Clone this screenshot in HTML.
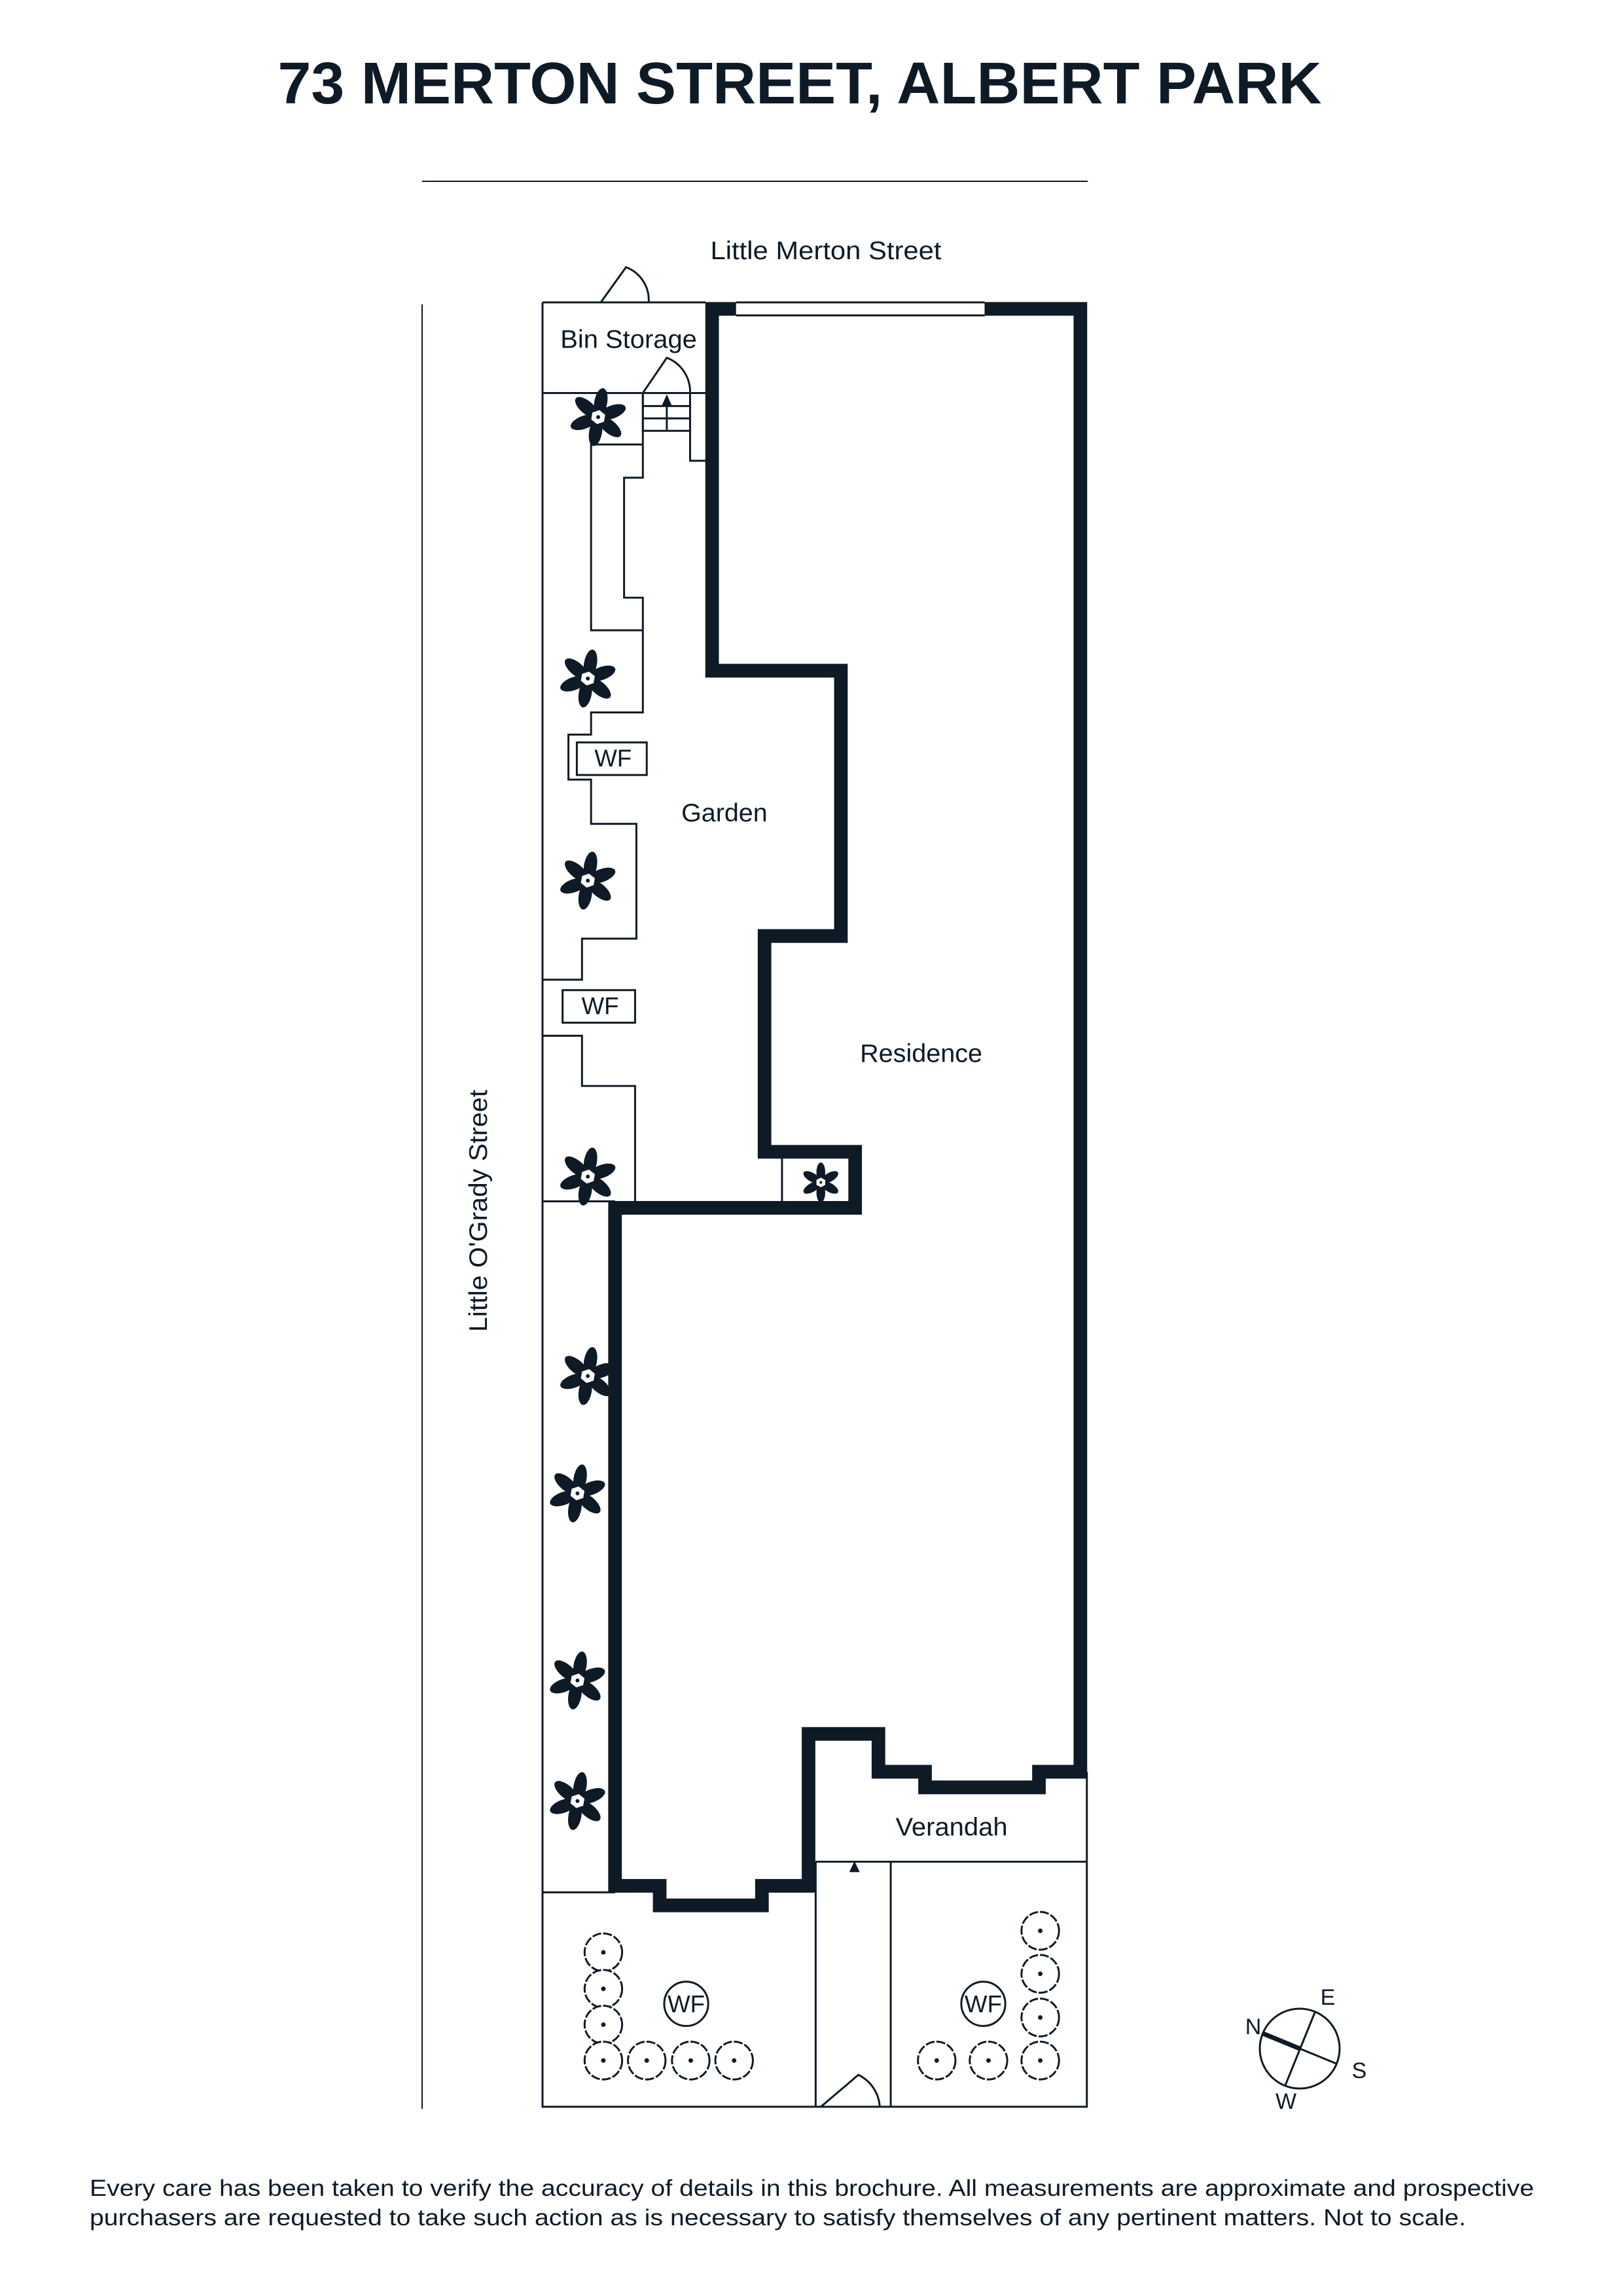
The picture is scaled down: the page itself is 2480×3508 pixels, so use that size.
<!DOCTYPE html>
<html><head><meta charset="utf-8"><style>
html,body{margin:0;padding:0;background:#fff}
svg{display:block}
text{font-family:"Liberation Sans",sans-serif;fill:#0e1a26}
</style></head><body>
<svg width="2480" height="3508" viewBox="0 0 2480 3508" xmlns="http://www.w3.org/2000/svg">
<defs>
<g id="star">
<g fill="#0e1a26">
<ellipse cx="0" cy="-23" rx="10" ry="22"/>
<ellipse cx="0" cy="-23" rx="10" ry="22" transform="rotate(60)"/>
<ellipse cx="0" cy="-23" rx="10" ry="22" transform="rotate(120)"/>
<ellipse cx="0" cy="-23" rx="10" ry="22" transform="rotate(180)"/>
<ellipse cx="0" cy="-23" rx="10" ry="22" transform="rotate(240)"/>
<ellipse cx="0" cy="-23" rx="10" ry="22" transform="rotate(300)"/>
</g>
<polygon points="0,-12 11,-6 11,6 0,12 -11,6 -11,-6" fill="#fff" stroke="#0e1a26" stroke-width="2"/>
<circle r="3" fill="#0e1a26"/>
</g>
<g id="shrub">
<circle r="29" fill="#fff" stroke="#0e1a26" stroke-width="3" stroke-dasharray="14 3"/>
<circle r="3.5" fill="#0e1a26"/>
</g>
</defs>

<text x="1222" y="158" font-size="90" font-weight="bold" text-anchor="middle" textLength="1595" lengthAdjust="spacingAndGlyphs">73 MERTON STREET, ALBERT PARK</text>
<line x1="645" y1="277" x2="1662" y2="277" stroke="#0e1a26" stroke-width="2"/>
<line x1="645" y1="465" x2="645" y2="3222" stroke="#0e1a26" stroke-width="2"/>

<text x="1262" y="396" font-size="39" text-anchor="middle" textLength="353" lengthAdjust="spacingAndGlyphs">Little Merton Street</text>
<text transform="translate(744,1850) rotate(-90)" font-size="39" text-anchor="middle" textLength="370" lengthAdjust="spacingAndGlyphs">Little O'Grady Street</text>

<g transform="translate(829,462) scale(0.989,0.996) translate(-829,-462)">
<g fill="none" stroke="#0e1a26" stroke-width="3">
<path d="M829,462 V3230 H1670 V2716"/>
<path d="M829,462 H1081"/>
<path d="M829,601 H1081"/>
<path d="M919,462 L958,408 A54,54 0 0 1 993,462"/>
<path d="M984,601 L1021,547 A56,56 0 0 1 1057,601"/>
<path d="M984,601 V659 H1057 M984,621 H1057 M984,640 H1057 M1057,601 V705 H1081"/>
<path d="M1021,659 V620"/>
<path d="M984,601 V731 H955 V915 H984 V1091 H904 V1125 H869 V1194 H904 V1262 H974 V1438 H890 V1501 H829"/>
<path d="M984,680 H904 V965 H984"/>
<path d="M829,1587 H890 V1664 H972 V1841"/>
<path d="M829,1841 H941"/>
<rect x="882" y="1137" width="108" height="50"/>
<rect x="860" y="1517" width="112" height="50"/>
<path d="M1199,1775 V1841"/>
<path d="M829,2901 H941"/>
<path d="M1251,2854 V3230 M1367,2854 V3230 M1251,2854 H1670"/>
<path d="M1259,3230 L1317,3181 A58,58 0 0 1 1350,3230"/>
<circle cx="1051" cy="3072" r="34"/>
<circle cx="1510" cy="3072" r="34"/>
</g>
<polygon points="1021,603 1013,621 1029,621" fill="#0e1a26"/>
<polygon points="1311,2853 1303,2870 1319,2870" fill="#0e1a26"/>

<path d="M1091,472 V1027 H1290 V1434 H1172 V1765 H1312 V1851 H941 V2891 H1010 V2921 H1168 V2891 H1240 V2658 H1348 V2716 H1420 V2740 H1596 V2716 H1660 V472 Z" fill="none" stroke="#0e1a26" stroke-width="21" stroke-linejoin="miter"/>
<rect x="1128" y="452" width="384" height="30" fill="#fff"/>
<path d="M1128,462 H1512 M1128,482 H1512" stroke="#0e1a26" stroke-width="3"/>

<text x="962" y="532" font-size="39" text-anchor="middle" textLength="211" lengthAdjust="spacingAndGlyphs">Bin Storage</text>
<text x="1110" y="1258" font-size="39" text-anchor="middle" textLength="133" lengthAdjust="spacingAndGlyphs">Garden</text>
<text x="1414" y="1627" font-size="39" text-anchor="middle" textLength="189" lengthAdjust="spacingAndGlyphs">Residence</text>
<text x="1461" y="2814" font-size="39" text-anchor="middle" textLength="173" lengthAdjust="spacingAndGlyphs">Verandah</text>
<text x="938" y="1174" font-size="37" text-anchor="middle">WF</text>
<text x="918" y="1554" font-size="37" text-anchor="middle">WF</text>
<text x="1051" y="3085" font-size="37" text-anchor="middle">WF</text>
<text x="1510" y="3085" font-size="37" text-anchor="middle">WF</text>

<use href="#star" transform="translate(915,638) rotate(10)"/>
<use href="#star" transform="translate(899,1039) rotate(10)"/>
<use href="#star" transform="translate(899,1349) rotate(10)"/>
<use href="#star" transform="translate(899,1803) rotate(10)"/>
<use href="#star" transform="translate(1259,1812) scale(0.68)"/>
<use href="#star" transform="translate(899,2109) rotate(10)"/>
<use href="#star" transform="translate(883,2289) rotate(10)"/>
<use href="#star" transform="translate(883,2576) rotate(10)"/>
<use href="#star" transform="translate(883,2761) rotate(10)"/>

<use href="#shrub" x="923" y="2993"/>
<use href="#shrub" x="923" y="3049"/>
<use href="#shrub" x="923" y="3104"/>
<use href="#shrub" x="923" y="3159"/>
<use href="#shrub" x="990" y="3159"/>
<use href="#shrub" x="1058" y="3159"/>
<use href="#shrub" x="1125" y="3159"/>
<use href="#shrub" x="1598" y="2960"/>
<use href="#shrub" x="1598" y="3026"/>
<use href="#shrub" x="1598" y="3093"/>
<use href="#shrub" x="1598" y="3159"/>
<use href="#shrub" x="1438" y="3159"/>
<use href="#shrub" x="1518" y="3159"/>
</g>

<circle cx="1986" cy="3130" r="61" fill="none" stroke="#0e1a26" stroke-width="3"/>
<line x1="1930" y1="3107" x2="2042" y2="3153" stroke="#0e1a26" stroke-width="3"/>
<line x1="1930" y1="3107" x2="1986" y2="3130" stroke="#0e1a26" stroke-width="7"/>
<line x1="2009" y1="3075" x2="1964" y2="3186" stroke="#0e1a26" stroke-width="3"/>
<text x="1915" y="3108" font-size="34" text-anchor="middle">N</text>
<text x="2029" y="3063" font-size="34" text-anchor="middle">E</text>
<text x="2077" y="3175" font-size="34" text-anchor="middle">S</text>
<text x="1965" y="3222" font-size="34" text-anchor="middle">W</text>

<text x="137" y="3355" font-size="35" textLength="2207" lengthAdjust="spacingAndGlyphs">Every care has been taken to verify the accuracy of details in this brochure. All measurements are approximate and prospective</text>
<text x="137" y="3400" font-size="35" textLength="2103" lengthAdjust="spacingAndGlyphs">purchasers are requested to take such action as is necessary to satisfy themselves of any pertinent matters. Not to scale.</text>
</svg>
</body></html>
